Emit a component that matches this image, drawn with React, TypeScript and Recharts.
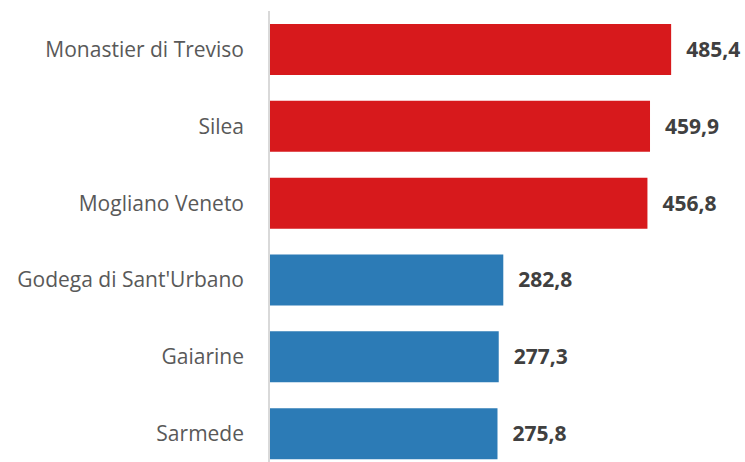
import React from "react";
import { BarChart, Bar, XAxis, YAxis, Cell, LabelList } from "recharts";

const categories = [
  "Monastier di Treviso",
  "Silea",
  "Mogliano Veneto",
  "Godega di Sant'Urbano",
  "Gaiarine",
  "Sarmede",
];
const values = [485.4, 459.9, 456.8, 282.8, 277.3, 275.8];
const highlighted = [true, true, true, false, false, false];

const RED = "#D7191C";
const BLUE = "#2C7BB6";

const data = categories.map((name, i) => ({ name, value: values[i] }));

const fmt = (v: any) => Number(v).toFixed(1).replace(".", ",");

export default function App() {
  return (
    <div style={{ position: "absolute", left: 0, top: 0 }}>
      <BarChart
        width={745}
        height={472}
        data={data}
        layout="vertical"
        margin={{ top: 11, right: 22, bottom: 0, left: 0 }}
        barSize={51}
      >
        <XAxis type="number" hide domain={[0, 548]} />
        <YAxis
          type="category"
          dataKey="name"
          width={269}
          axisLine={{ stroke: "#D9D9D9", strokeWidth: 2 }}
          tickLine={false}
          tickSize={0}
          tickMargin={25}
          tick={{ fill: "#595959", fontSize: 21, fontFamily: "Open Sans" }}
          interval={0}
        />
        <Bar dataKey="value" isAnimationActive={false}>
          {data.map((d, i) => (
            <Cell key={d.name} fill={highlighted[i] ? RED : BLUE} />
          ))}
          <LabelList
            dataKey="value"
            position="right"
            offset={15}
            formatter={fmt}
            style={{ fill: "#404040", fontSize: 21, fontWeight: 700, fontFamily: "Open Sans" }}
          />
        </Bar>
      </BarChart>
    </div>
  );
}
